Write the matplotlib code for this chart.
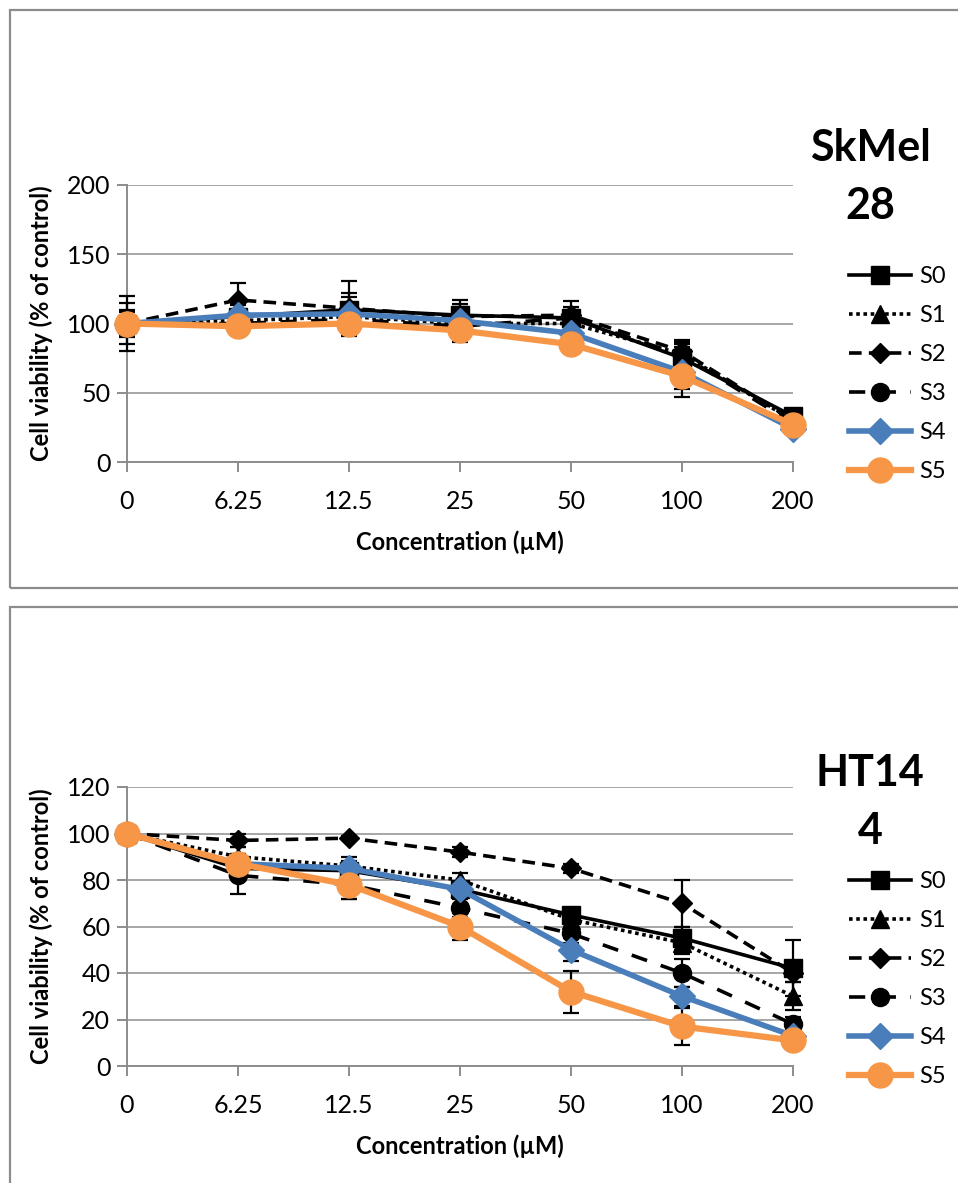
"""
SkMel 28 / HT144 の細胞生存率を濃度ごとに並べて描く。
"""

import matplotlib
matplotlib.use("Agg")
import matplotlib.pyplot as plt
from matplotlib.patches import Rectangle
from matplotlib.lines import Line2D

plt.rcParams["font.family"] = ["Lato", "DejaVu Sans"]

concentrations = ["0", "6.25", "12.5", "25", "50", "100", "200"]
series_names = ["S0", "S1", "S2", "S3", "S4", "S5"]

# SkMel 28
sk_s0 = [100, 105, 110, 106, 104, 75, 33]
sk_s1 = [100, 102, 105, 100, 100, 78, 30]
sk_s2 = [100, 117, 111, 105, 106, 80, 30]
sk_s3 = [100, 100, 103, 98, 104, 77, 28]
sk_s4 = [100, 106, 107, 102, 93, 65, 24]
sk_s5 = [100, 98, 100, 95, 85, 62, 27]
sk_err_s0 = [20, 8, 12, 8, 6, 8, 4]
sk_err_s1 = [15, 6, 10, 6, 5, 7, 4]
sk_err_s2 = [8, 12, 20, 12, 10, 8, 3]
sk_err_s3 = [10, 8, 10, 8, 8, 10, 3]
sk_err_s4 = [5, 8, 12, 10, 5, 12, 3]
sk_err_s5 = [5, 6, 8, 8, 5, 15, 3]

# HT144
ht_s0 = [100, 85, 84, 76, 65, 55, 42]
ht_s1 = [100, 90, 86, 80, 63, 53, 30]
ht_s2 = [100, 97, 98, 92, 85, 70, 40]
ht_s3 = [100, 82, 78, 68, 57, 40, 18]
ht_s4 = [100, 87, 85, 76, 50, 30, 13]
ht_s5 = [100, 87, 78, 60, 32, 17, 11]
ht_err_s0 = [1, 4, 3, 3, 3, 5, 12]
ht_err_s1 = [1, 4, 4, 3, 3, 5, 6]
ht_err_s2 = [1, 3, 1, 2, 2, 10, 4]
ht_err_s3 = [1, 8, 6, 4, 4, 6, 3]
ht_err_s4 = [1, 4, 3, 3, 5, 4, 2]
ht_err_s5 = [1, 4, 6, 6, 9, 8, 2]

styles = [
    dict(color="black", ls="-", lw=2.6, marker="s", ms=13),
    dict(color="black", ls=(0, (1, 1)), lw=2.6, marker="^", ms=13),
    dict(color="black", ls=(0, (3.5, 2)), lw=2.6, marker="D", ms=10),
    dict(color="black", ls=(0, (4.5, 4)), lw=2.6, marker="o", ms=13),
    dict(color="#4a7ebb", ls="-", lw=4, marker="D", ms=13),
    dict(color="#f79646", ls="-", lw=4.5, marker="o", ms=18),
]

W, H = 958, 1183
fig = plt.figure(figsize=(W / 100, H / 100), dpi=100)

# 外枠
for (x0, y0, x1, y1) in [(10, 10, 975, 588), (10, 607, 975, 1200)]:
    fig.add_artist(Rectangle((x0 / W, 1 - y1 / H), (x1 - x0) / W, (y1 - y0) / H,
                             transform=fig.transFigure, fill=False,
                             edgecolor="#8c8c8c", lw=1.6, clip_on=False))


def panel(ax_rect, values, errors, ymax, ystep, title, title_y, legend_y):
    ax = fig.add_axes(ax_rect)
    xs = list(range(len(concentrations)))
    for vals, errs, st in zip(values, errors, styles):
        ax.errorbar(xs, vals, yerr=errs, fmt="none", ecolor="black",
                    elinewidth=1.6, capsize=6, capthick=1.6, clip_on=False, zorder=3)
        ax.plot(xs, vals, color=st["color"], ls=st["ls"], lw=st["lw"],
                marker=st["marker"], ms=st["ms"], mec=st["color"], mfc=st["color"],
                clip_on=False, zorder=4)
    ax.set_xlim(0, len(concentrations) - 1)
    ax.set_ylim(0, ymax)
    ax.set_xticks(xs)
    ax.set_xticklabels(concentrations)
    ax.set_yticks(range(0, ymax + 1, ystep))
    ax.grid(axis="y", color="#a6a6a6", lw=1.4)
    ax.set_axisbelow(True)
    for s in ["top", "right"]:
        ax.spines[s].set_visible(False)
    for s in ["left", "bottom"]:
        ax.spines[s].set_color("#8c8c8c")
        ax.spines[s].set_linewidth(1.4)
    ax.tick_params(axis="both", color="#8c8c8c", width=1.4, length=7,
                   labelsize=18, pad=5)
    ax.tick_params(axis="x", pad=13)
    ax.set_xlabel("Concentration (µM)", fontsize=17, fontweight="bold", labelpad=13)
    ax.set_ylabel("Cell viability (% of control)", fontsize=17, fontweight="bold",
                  labelpad=10)

    fig.text(870 / W, 1 - title_y / H, title, ha="center", va="center",
             fontsize=31, fontweight="bold", linespacing=1.55)

    handles = [Line2D([], [], color=st["color"], ls=st["ls"], lw=st["lw"],
                      marker=st["marker"], ms=st["ms"], mec=st["color"], mfc=st["color"])
               for st in styles]
    fig.legend(handles, series_names, loc="upper left",
               bbox_to_anchor=(840 / W, 1 - legend_y / H), frameon=False,
               fontsize=17, handlelength=2.6, handletextpad=0.35,
               labelspacing=0.76, borderaxespad=0)
    return ax


panel([127 / W, 1 - 462 / H, 666 / W, 277 / H],
      [sk_s0, sk_s1, sk_s2, sk_s3, sk_s4, sk_s5],
      [sk_err_s0, sk_err_s1, sk_err_s2, sk_err_s3, sk_err_s4, sk_err_s5],
      200, 50, "SkMel\n28", 177, 257)

panel([127 / W, 1 - 1066 / H, 666 / W, 279 / H],
      [ht_s0, ht_s1, ht_s2, ht_s3, ht_s4, ht_s5],
      [ht_err_s0, ht_err_s1, ht_err_s2, ht_err_s3, ht_err_s4, ht_err_s5],
      120, 20, "HT14\n4", 802, 862)

fig.savefig("out.png", dpi=100)
